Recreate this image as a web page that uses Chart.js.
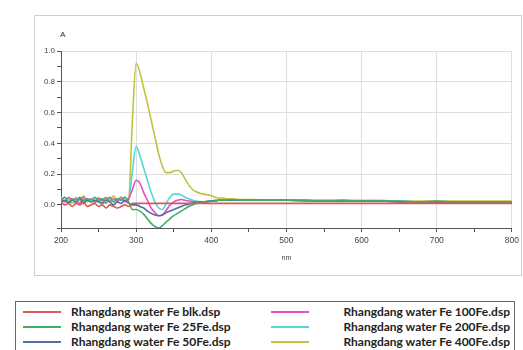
<!DOCTYPE html>
<html>
<head>
<meta charset="utf-8">
<script src="https://cdn.jsdelivr.net/npm/chart.js@4/dist/chart.umd.min.js"></script>
<style>
  body { margin: 0; background: #fff; width: 523px; height: 350px; overflow: hidden; position: relative; font-family: "Liberation Sans", Arial, sans-serif; }
  #box { position: absolute; left: 34px; top: 15px; width: 486px; height: 259px; border: 1px solid #cfcfcf; }
  #wrap { position: absolute; left: 0; top: 0; width: 488px; height: 258px; }
  #unit { position: absolute; left: 25px; top: 14px; font-size: 8px; color: #333; }
  #legend { position: absolute; left: 15px; top: 301px; width: 498px; height: 60px; border: 1px solid #666; font-family: Lato, "Open Sans", sans-serif; font-weight: bold; font-size: 12px; color: #222; }
  .item { position: absolute; height: 14px; line-height: 14px; }
  .item i { position: absolute; top: 6px; width: 38px; height: 2px; }
  .item span { position: absolute; white-space: nowrap; }
</style>
</head>
<body>
<div id="box">
  <div id="unit">A</div>
  <div id="wrap"><canvas id="myChart"></canvas></div>
</div>
<div id="legend"></div>
<script>
// Valores (nm / absorbância)
const wavelengths = [200,205,210,215,220,225,230,235,240,245,
  250,255,260,265,270,275,280,285,290,295,
  300,305,310,315,320,325,330,335,340,345,
  350,355,360,365,370,375,380,385,390,395,
  400,405,410,415,420,425,430,435,440,445,450,
  475,500,525,550,575,600,625,650,675,700,725,750,775,800];

const seriesNames = ["Rhangdang water Fe blk.dsp", "Rhangdang water Fe 25Fe.dsp", "Rhangdang water Fe 50Fe.dsp",
  "Rhangdang water Fe 100Fe.dsp", "Rhangdang water Fe 200Fe.dsp", "Rhangdang water Fe 400Fe.dsp"];
const seriesColors = ["#df5656", "#3fae62", "#4f6fa6", "#e64fc8", "#55d6d8", "#c2c23e"];

const blk = [0.02,0.00,0.01,-0.01,0.01,0.00,0.02,-0.01,0.00,0.01,
  -0.01,0.00,-0.02,0.00,-0.01,-0.02,-0.01,0.00,-0.01,0.01,
  0.01,0.01,0.01,0.01,0.01,0.01,0.01,0.01,0.01,0.01,
  0.01,0.01,0.01,0.01,0.01,0.01,0.01,0.01,0.01,0.01,
  0.01,0.01,0.01,0.01,0.01,0.01,0.01,0.01,0.01,0.01,0.01,
  0.01,0.01,0.01,0.01,0.01,0.01,0.01,0.01,0.01,0.01,0.01,0.01,0.01,0.01];
const fe25 = [0.03,0.05,0.02,0.04,0.01,0.05,0.03,0.04,0.02,0.05,
  0.03,0.04,0.01,0.05,0.02,0.04,0.03,0.05,0.02,-0.03,
  -0.03,-0.04,-0.06,-0.09,-0.12,-0.14,-0.15,-0.135,-0.11,-0.09,
  -0.07,-0.055,-0.04,-0.025,-0.01,0.00,0.01,0.015,0.02,0.02,
  0.025,0.025,0.03,0.03,0.03,0.035,0.03,0.035,0.03,0.03,0.03,
  0.03,0.03,0.03,0.025,0.03,0.025,0.025,0.025,0.02,0.025,0.02,0.02,0.02,0.02];
const fe50 = [0.02,0.03,0.01,0.03,0.02,0.04,0.01,0.03,0.02,0.03,
  0.02,0.01,0.03,0.02,0.00,0.02,0.01,0.03,0.01,0.00,
  0.00,-0.01,-0.02,-0.04,-0.055,-0.065,-0.07,-0.065,-0.05,-0.04,
  -0.03,-0.02,-0.01,0.00,0.005,0.01,0.015,0.02,0.02,0.025,
  0.025,0.03,0.03,0.03,0.03,0.03,0.03,0.03,0.03,0.03,0.03,
  0.03,0.03,0.025,0.025,0.025,0.025,0.025,0.02,0.02,0.02,0.02,0.02,0.02,0.02];
const fe100 = [0.04,0.02,0.05,0.03,0.04,0.01,0.05,0.03,0.04,0.02,
  0.04,0.03,0.05,0.02,0.04,0.03,0.05,0.02,0.04,0.10,
  0.16,0.14,0.08,0.03,-0.02,-0.05,-0.07,-0.065,-0.035,0.00,
  0.02,0.03,0.035,0.03,0.025,0.02,0.02,0.02,0.02,0.02,
  0.025,0.025,0.03,0.03,0.03,0.03,0.03,0.03,0.03,0.03,0.03,
  0.03,0.03,0.03,0.025,0.025,0.025,0.025,0.02,0.02,0.02,0.02,0.02,0.02,0.02];
const fe200 = [0.03,0.05,0.02,0.04,0.03,0.05,0.02,0.04,0.03,0.05,
  0.02,0.04,0.03,0.05,0.02,0.04,0.03,0.05,0.03,0.22,
  0.38,0.32,0.24,0.16,0.08,0.02,-0.02,-0.03,0.01,0.05,
  0.07,0.07,0.065,0.05,0.04,0.03,0.025,0.02,0.02,0.02,
  0.025,0.025,0.03,0.03,0.03,0.03,0.03,0.03,0.03,0.03,0.03,
  0.03,0.03,0.03,0.03,0.03,0.025,0.025,0.025,0.02,0.02,0.02,0.02,0.02,0.02];
const fe400 = [0.05,0.02,0.04,0.01,0.05,0.03,0.06,0.02,0.04,0.01,
  0.05,0.02,0.04,0.03,0.06,0.02,0.05,0.03,0.04,0.55,
  0.92,0.86,0.76,0.66,0.55,0.44,0.33,0.25,0.21,0.21,
  0.22,0.225,0.21,0.17,0.13,0.10,0.085,0.075,0.07,0.065,
  0.06,0.05,0.045,0.045,0.04,0.04,0.04,0.035,0.035,0.035,0.035,
  0.03,0.03,0.03,0.03,0.03,0.03,0.03,0.025,0.025,0.025,0.025,0.025,0.025,0.025];

const seriesValues = [blk, fe25, fe50, fe100, fe200, fe400];

const isMajor = (v, step) => Math.abs(v / step - Math.round(v / step)) < 1e-6;

new Chart("myChart", {
  type: "line",
  data: {
    datasets: seriesValues.map((vals, i) => ({
      label: seriesNames[i],
      data: vals.map((y, k) => ({ x: wavelengths[k], y: y })),
      borderColor: seriesColors[i],
      borderWidth: 1.6,
      pointRadius: 0,
      cubicInterpolationMode: "monotone"
    }))
  },
  options: {
    responsive: true,
    maintainAspectRatio: false,
    animation: false,
    layout: { padding: { top: 35, right: 9, left: 0, bottom: 12 } },
    plugins: { legend: { display: false }, tooltip: { enabled: false } },
    scales: {
      x: {
        type: "linear",
        min: 200, max: 800,
        afterFit: s => { s.height = 34; },
        border: { color: "#555" },
        grid: {
          color: c => (c.tick && isMajor(c.tick.value, 100) && c.tick.value > 200) ? "#dedede" : "rgba(0,0,0,0)",
          tickColor: "#555", tickLength: 4
        },
        ticks: {
          stepSize: 50, autoSkip: false, maxRotation: 0, padding: 4,
          color: "#444", font: { size: 8.5, family: "Liberation Sans" },
          callback: v => isMajor(v, 100) ? String(v) : ""
        },
        title: { display: true, text: "nm", color: "#444", font: { size: 7, family: "Liberation Sans" }, padding: { top: 4, bottom: 0 } }
      },
      y: {
        min: -0.15, max: 1.0,
        afterFit: s => { s.width = 26; },
        border: { color: "#555" },
        grid: {
          color: c => (c.tick && isMajor(c.tick.value, 0.2) && c.tick.value > 0.1) ? "#dedede" : "rgba(0,0,0,0)",
          tickColor: "#555", tickLength: 4
        },
        ticks: {
          stepSize: 0.1, autoSkip: false, padding: 2,
          color: "#444", font: { size: 8, family: "Liberation Sans" },
          callback: v => (isMajor(v, 0.2) && v > -0.1) ? v.toFixed(1) : ""
        }
      }
    }
  }
});

// legenda em duas colunas, feita em HTML
const legend = document.getElementById("legend");
seriesNames.forEach((name, i) => {
  const col = i < 3 ? 0 : 1;
  const row = i % 3;
  const item = document.createElement("div");
  item.className = "item";
  item.style.top = (3 + row * 15) + "px";
  item.style.left = "0px";
  item.style.width = "498px";
  const line = document.createElement("i");
  line.style.background = seriesColors[i];
  line.style.left = col === 0 ? "7px" : "255px";
  const txt = document.createElement("span");
  txt.textContent = name;
  if (col === 0) { txt.style.left = "55px"; } else { txt.style.right = "4px"; }
  item.appendChild(line);
  item.appendChild(txt);
  legend.appendChild(item);
});
</script>
</body>
</html>
